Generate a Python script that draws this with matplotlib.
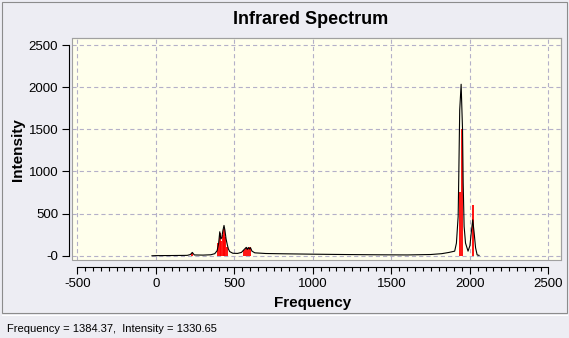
import numpy as np
import matplotlib
matplotlib.use("Agg")
import matplotlib.pyplot as plt
from matplotlib.ticker import FixedLocator
from matplotlib.patches import Rectangle
from matplotlib.lines import Line2D

# broadened spectrum (black line)
curve_freq = [-25, 0, 100, 200, 220, 232, 245, 300, 350, 375, 390, 400, 407, 414, 420, 427,
              434, 440, 447, 455, 462, 470, 490, 520, 545, 560, 568, 576, 582, 589, 596,
              603, 612, 630, 700, 800, 1000, 1200, 1400, 1600, 1750, 1820, 1867, 1903,
              1914, 1925, 1929, 1935, 1944, 1953, 1957, 1963, 1972, 1988, 2000, 2010,
              2018, 2027, 2036, 2046, 2058]
curve_int = [0, 2, 3, 5, 15, 40, 10, 8, 12, 25, 60, 150, 285, 200, 215, 300,
             360, 300, 200, 130, 80, 50, 30, 28, 40, 70, 85, 100, 75, 98, 80,
             95, 55, 35, 27, 24, 19, 15, 12, 10, 15, 25, 40, 55,
             150, 465, 940, 1730, 2035, 1490, 865, 350, 150, 55, 120, 300,
             426, 270, 95, 10, 5]

# stick spectrum (red lines)
stick_freq = [232, 396, 407, 416, 427, 434, 443, 455, 562, 572, 587, 598, 1938, 1951, 2021]
stick_int = [35, 150, 270, 180, 250, 320, 225, 100, 70, 95, 90, 100, 760, 1500, 600]

x_ticks = [-500, 0, 500, 1000, 1500, 2000, 2500]
x_labels = ["-500", "0", "500", "1000", "1500", "2000", "2500"]
y_ticks = [0, 500, 1000, 1500, 2000, 2500]
y_labels = ["-0", "500", "1000", "1500", "2000", "2500"]

plt.rcParams["font.family"] = ["Liberation Sans", "DejaVu Sans"]
plt.rcParams["lines.scale_dashes"] = False

W, H = 569, 338
fig = plt.figure(figsize=(W / 100, H / 100), dpi=100, facecolor="#ededf3")

# window panel border and status bar separator
fig.add_artist(Rectangle((2 / W, 1 - 313 / H), 565 / W, 311 / H, transform=fig.transFigure,
                         fill=False, edgecolor="#8c8c8c", lw=0.8))
fig.add_artist(Line2D([2 / W, 567 / W], [1 - 315 / H, 1 - 315 / H], transform=fig.transFigure,
                      color="white", lw=0.8))

ax = fig.add_axes([72 / W, 78 / H, 489 / W, 221.7 / H])
ax.set_facecolor("#ffffec")

ax.vlines(stick_freq, 0, stick_int, color="red", lw=1.3, zorder=2)
ax.plot(curve_freq, curve_int, color="black", lw=0.8, zorder=3)

ax.set_xlim(-534, 2580)
ax.set_ylim(-50, 2580)

ax.xaxis.set_major_locator(FixedLocator(x_ticks))
ax.xaxis.set_minor_locator(FixedLocator(np.arange(-500, 2501, 50)))
ax.set_xticklabels(x_labels)
ax.yaxis.set_major_locator(FixedLocator(y_ticks))
ax.set_yticklabels(y_labels)

ax.grid(True, color="#b4b0c8", ls=(0, (3, 2.2)), lw=0.8)
ax.set_axisbelow(True)

for s in ["top", "right"]:
    ax.spines[s].set_color("#a0a0a0")
    ax.spines[s].set_linewidth(0.8)
ax.spines["left"].set_position(("outward", 2))
ax.spines["left"].set_bounds(0, 2500)
ax.spines["bottom"].set_position(("outward", 5))
ax.spines["bottom"].set_bounds(-500, 2500)
ax.add_patch(Rectangle((0, 0), 1, 1, transform=ax.transAxes, fill=False,
                       edgecolor="#a0a0a0", lw=0.8, clip_on=False, zorder=4))

ax.tick_params(axis="x", which="major", length=5, width=0.8, pad=3, labelsize=9.5)
ax.tick_params(axis="x", which="minor", length=3, width=0.8)
ax.tick_params(axis="y", which="major", length=5, width=0.8, pad=3, labelsize=9.5)

fig.text(311 / W, 1 - 20 / H, "Infrared Spectrum", fontsize=13, fontweight="bold",
         ha="center", va="center")
fig.text(313 / W, 1 - 303 / H, "Frequency", fontsize=11, fontweight="bold",
         ha="center", va="center")
fig.text(18.5 / W, 1 - 150 / H, "Intensity", fontsize=11, fontweight="bold",
         rotation=90, ha="center", va="center")
fig.text(7 / W, 1 - 329 / H, "Frequency = 1384.37,  Intensity = 1330.65", fontsize=8,
         ha="left", va="center")

fig.savefig("out.png", dpi=100, facecolor=fig.get_facecolor())
